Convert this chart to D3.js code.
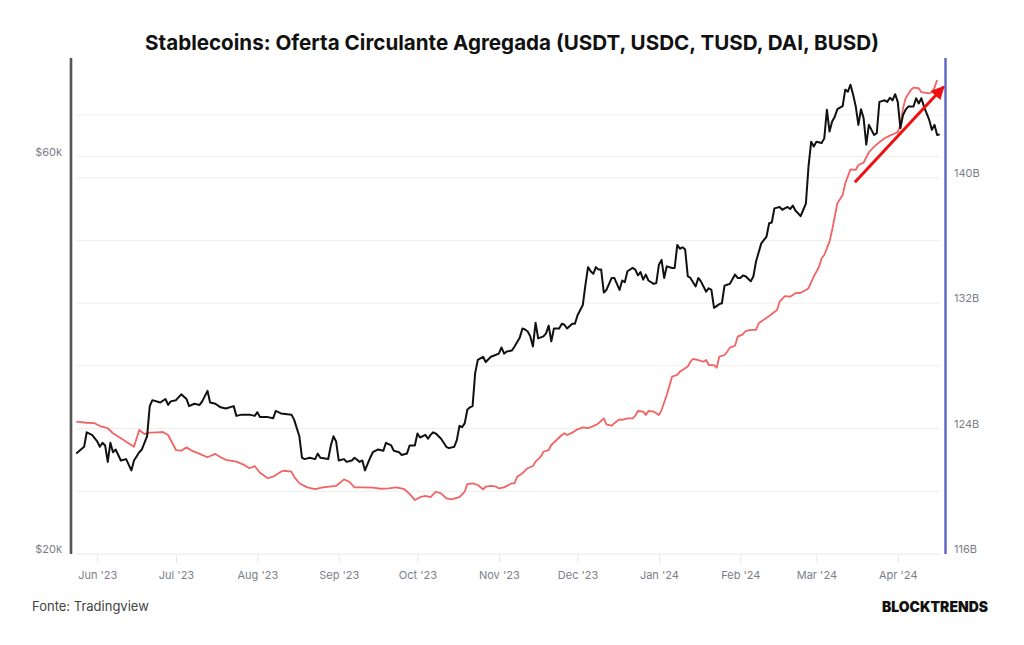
<!DOCTYPE html>
<html>
<head>
<meta charset="utf-8">
<script src="https://cdn.jsdelivr.net/npm/d3@7"></script>
<style>
body { margin: 0; background: #fff; }
svg text { font-family: Inter, "Noto Sans", sans-serif; }
</style>
</head>
<body>
<div id="chart"></div>
<script>
// BTC price (USD), left axis, log scale
const btcSeries = [
  ["2023-05-24",26400],["2023-05-27",26900],["2023-05-28",28000],["2023-05-30",27800],["2023-06-01",27300],
  ["2023-06-02",26900],["2023-06-03",27200],["2023-06-04",27000],["2023-06-05",25800],["2023-06-06",27200],
  ["2023-06-07",26500],["2023-06-08",26700],["2023-06-09",26300],["2023-06-10",25900],["2023-06-12",26000],
  ["2023-06-14",25200],["2023-06-15",25900],["2023-06-17",26500],["2023-06-18",26700],["2023-06-20",27700],
  ["2023-06-21",30100],["2023-06-22",30600],["2023-06-25",30400],["2023-06-27",30700],["2023-06-28",30200],
  ["2023-06-29",30500],["2023-07-01",30600],["2023-07-03",31100],["2023-07-05",30700],["2023-07-06",30100],
  ["2023-07-08",30300],["2023-07-10",30200],["2023-07-11",30500],["2023-07-13",31400],["2023-07-14",30400],
  ["2023-07-16",30300],["2023-07-18",30000],["2023-07-20",29900],["2023-07-23",30100],["2023-07-24",29300],
  ["2023-07-26",29400],["2023-07-29",29400],["2023-07-31",29300],["2023-08-01",29600],["2023-08-02",29200],
  ["2023-08-05",29200],["2023-08-07",29100],["2023-08-08",29700],["2023-08-10",29500],["2023-08-14",29400],
  ["2023-08-15",29000],["2023-08-17",27700],["2023-08-18",26100],["2023-08-19",26000],["2023-08-21",26100],
  ["2023-08-23",26000],["2023-08-24",26400],["2023-08-25",26100],["2023-08-28",26000],["2023-08-29",27000],
  ["2023-08-30",27700],["2023-08-31",27300],["2023-09-01",25900],["2023-09-03",26000],["2023-09-04",25800],
  ["2023-09-06",25900],["2023-09-07",26100],["2023-09-09",25800],["2023-09-10",25900],["2023-09-11",25200],
  ["2023-09-13",26100],["2023-09-14",26500],["2023-09-16",26700],["2023-09-18",26600],["2023-09-19",27200],
  ["2023-09-21",27000],["2023-09-22",26600],["2023-09-24",26500],["2023-09-25",26300],["2023-09-27",26400],
  ["2023-09-28",27000],["2023-09-30",27000],["2023-10-01",27900],["2023-10-02",27600],["2023-10-04",27800],
  ["2023-10-05",27500],["2023-10-06",27800],["2023-10-07",28000],["2023-10-08",27900],["2023-10-10",27500],
  ["2023-10-12",26900],["2023-10-13",26800],["2023-10-15",26900],["2023-10-16",27400],["2023-10-17",28500],
  ["2023-10-18",28400],["2023-10-19",28700],["2023-10-20",29800],["2023-10-21",30000],["2023-10-22",30100],
  ["2023-10-23",33000],["2023-10-24",34200],["2023-10-26",34500],["2023-10-27",34000],["2023-10-29",34500],
  ["2023-10-30",34600],["2023-11-01",34800],["2023-11-02",35400],["2023-11-03",34800],["2023-11-04",35000],
  ["2023-11-06",35100],["2023-11-07",35500],["2023-11-09",36400],["2023-11-10",37300],["2023-11-11",37200],
  ["2023-11-12",37000],["2023-11-13",36500],["2023-11-14",35500],["2023-11-15",37900],["2023-11-16",36300],
  ["2023-11-18",36500],["2023-11-19",36800],["2023-11-20",37600],["2023-11-21",36000],["2023-11-22",37300],
  ["2023-11-24",37300],["2023-11-25",37800],["2023-11-26",37700],["2023-11-27",37300],["2023-11-29",37800],
  ["2023-11-30",37800],["2023-12-01",38700],["2023-12-03",39800],["2023-12-04",42100],["2023-12-05",44200],
  ["2023-12-06",43700],["2023-12-07",43400],["2023-12-08",44200],["2023-12-09",43900],["2023-12-10",43900],
  ["2023-12-11",41200],["2023-12-12",41500],["2023-12-14",42900],["2023-12-15",42900],["2023-12-16",42200],
  ["2023-12-17",41500],["2023-12-18",42600],["2023-12-19",42400],["2023-12-20",43700],["2023-12-22",44100],
  ["2023-12-23",43900],["2023-12-24",43200],["2023-12-25",43600],["2023-12-26",42700],["2023-12-27",43300],
  ["2023-12-28",42600],["2023-12-30",42200],["2023-12-31",42300],["2024-01-01",44500],["2024-01-02",45100],
  ["2024-01-03",42900],["2024-01-04",44300],["2024-01-06",44100],["2024-01-07",44100],["2024-01-08",47000],
  ["2024-01-09",46500],["2024-01-10",46700],["2024-01-11",46400],["2024-01-12",43100],["2024-01-13",42900],
  ["2024-01-15",41900],["2024-01-16",42900],["2024-01-17",42500],["2024-01-19",41300],["2024-01-20",41700],
  ["2024-01-21",41500],["2024-01-22",39500],["2024-01-24",39900],["2024-01-25",40000],["2024-01-26",42000],
  ["2024-01-27",42100],["2024-01-28",42200],["2024-01-30",43300],["2024-01-31",42900],["2024-02-01",42900],
  ["2024-02-02",43200],["2024-02-03",43100],["2024-02-05",42500],["2024-02-06",43100],["2024-02-07",44900],
  ["2024-02-09",47200],["2024-02-11",48100],["2024-02-12",49900],["2024-02-13",50000],["2024-02-14",52000],
  ["2024-02-16",52200],["2024-02-17",51800],["2024-02-19",52200],["2024-02-20",51900],["2024-02-21",52400],
  ["2024-02-22",51700],["2024-02-24",50900],["2024-02-25",51800],["2024-02-26",52700],["2024-02-27",58400],
  ["2024-02-28",62500],["2024-02-29",61700],["2024-03-01",62500],["2024-03-03",62300],["2024-03-04",63100],
  ["2024-03-05",68300],["2024-03-06",64300],["2024-03-07",66100],["2024-03-08",67000],["2024-03-09",68400],
  ["2024-03-11",69000],["2024-03-12",72200],["2024-03-13",71800],["2024-03-14",73200],["2024-03-15",71200],
  ["2024-03-16",68900],["2024-03-17",65500],["2024-03-18",68400],["2024-03-19",66700],["2024-03-20",62000],
  ["2024-03-21",65500],["2024-03-23",63700],["2024-03-24",64000],["2024-03-25",69800],["2024-03-27",70100],
  ["2024-03-28",69800],["2024-03-29",70600],["2024-03-30",70100],["2024-03-31",71300],["2024-04-01",69800],
  ["2024-04-02",64900],["2024-04-03",67300],["2024-04-04",68300],["2024-04-05",68900],["2024-04-07",68900],
  ["2024-04-08",70500],["2024-04-09",69500],["2024-04-10",70500],["2024-04-11",68900],["2024-04-12",67600],
  ["2024-04-13",66400],["2024-04-14",64600],["2024-04-15",65500],["2024-04-16",63700],["2024-04-17",63800]
];

// Aggregated stablecoin supply (billions USD), right axis
const supplySeries = [
  ["2023-05-24",124.44],["2023-05-28",124.37],["2023-05-31",124.34],["2023-06-02",124.16],["2023-06-05",124.02],
  ["2023-06-07",123.70],["2023-06-10",123.38],["2023-06-12",123.16],["2023-06-15",122.84],["2023-06-16",123.38],
  ["2023-06-17",123.91],["2023-06-19",123.65],["2023-06-21",123.74],["2023-06-24",123.76],["2023-06-26",123.78],
  ["2023-06-28",123.59],["2023-06-29",123.27],["2023-07-01",122.63],["2023-07-03",122.59],["2023-07-05",122.80],
  ["2023-07-07",122.59],["2023-07-10",122.38],["2023-07-13",122.17],["2023-07-16",122.38],["2023-07-18",122.17],
  ["2023-07-20",122.00],["2023-07-24",121.89],["2023-07-27",121.68],["2023-07-29",121.47],["2023-07-31",121.61],
  ["2023-08-02",121.18],["2023-08-05",120.83],["2023-08-07",120.93],["2023-08-10",121.25],["2023-08-11",121.31],
  ["2023-08-14",121.25],["2023-08-15",120.93],["2023-08-17",120.51],["2023-08-20",120.25],["2023-08-23",120.13],
  ["2023-08-26",120.25],["2023-08-31",120.34],["2023-09-03",120.76],["2023-09-05",120.61],["2023-09-07",120.25],
  ["2023-09-10",120.25],["2023-09-14",120.23],["2023-09-17",120.16],["2023-09-20",120.19],["2023-09-23",120.25],
  ["2023-09-26",120.13],["2023-09-28",119.83],["2023-09-30",119.44],["2023-10-02",119.62],["2023-10-04",119.70],
  ["2023-10-06",119.62],["2023-10-08",119.97],["2023-10-10",119.87],["2023-10-12",119.55],["2023-10-14",119.49],
  ["2023-10-17",119.62],["2023-10-19",119.97],["2023-10-20",120.46],["2023-10-22",120.51],["2023-10-24",120.40],
  ["2023-10-26",120.13],["2023-10-27",120.29],["2023-10-29",120.34],["2023-10-31",120.29],["2023-11-01",120.19],
  ["2023-11-03",120.25],["2023-11-06",120.51],["2023-11-07",120.51],["2023-11-08",120.93],["2023-11-10",121.15],
  ["2023-11-12",121.47],["2023-11-14",121.61],["2023-11-15",121.89],["2023-11-17",122.21],["2023-11-18",122.52],
  ["2023-11-20",122.63],["2023-11-21",122.95],["2023-11-23",123.27],["2023-11-25",123.59],["2023-11-26",123.70],
  ["2023-11-27",123.59],["2023-11-29",123.74],["2023-12-01",123.95],["2023-12-03",124.08],["2023-12-05",124.02],
  ["2023-12-08",124.23],["2023-12-09",124.34],["2023-12-11",124.65],["2023-12-12",124.27],["2023-12-14",124.18],
  ["2023-12-15",124.34],["2023-12-17",124.59],["2023-12-18",124.55],["2023-12-20",124.65],["2023-12-22",124.65],
  ["2023-12-23",124.82],["2023-12-24",125.12],["2023-12-26",125.08],["2023-12-27",124.86],["2023-12-28",125.12],
  ["2023-12-30",125.08],["2024-01-01",124.86],["2024-01-02",125.18],["2024-01-04",126.14],["2024-01-06",127.31],
  ["2024-01-08",127.42],["2024-01-09",127.63],["2024-01-10",127.73],["2024-01-12",127.95],["2024-01-13",128.26],
  ["2024-01-14",128.44],["2024-01-16",128.37],["2024-01-18",128.26],["2024-01-19",128.37],["2024-01-20",128.05],
  ["2024-01-22",128.05],["2024-01-23",127.88],["2024-01-24",128.58],["2024-01-26",128.69],["2024-01-27",128.90],
  ["2024-01-28",129.16],["2024-01-30",129.28],["2024-01-31",129.86],["2024-02-02",130.01],["2024-02-03",130.22],
  ["2024-02-05",130.29],["2024-02-07",130.29],["2024-02-08",130.71],["2024-02-12",131.18],["2024-02-15",131.56],
  ["2024-02-16",132.09],["2024-02-18",132.45],["2024-02-20",132.41],["2024-02-22",132.63],["2024-02-24",132.66],
  ["2024-02-26",132.84],["2024-02-27",132.95],["2024-02-29",133.69],["2024-03-02",134.32],["2024-03-03",134.86],
  ["2024-03-04",135.07],["2024-03-06",135.92],["2024-03-07",136.66],["2024-03-09",138.37],["2024-03-11",138.90],
  ["2024-03-12",139.64],["2024-03-14",140.53],["2024-03-16",140.49],["2024-03-17",140.81],["2024-03-19",140.96],
  ["2024-03-20",141.30],["2024-03-21",141.62],["2024-03-23",141.98],["2024-03-25",142.26],["2024-03-27",142.51],
  ["2024-03-29",142.68],["2024-03-31",142.83],["2024-04-01",142.89],["2024-04-02",143.36],["2024-04-03",144.42],
  ["2024-04-04",145.06],["2024-04-06",145.59],["2024-04-07",145.74],["2024-04-09",145.70],["2024-04-10",145.45],
  ["2024-04-13",145.38],["2024-04-14",145.45],["2024-04-15",145.74],["2024-04-16",146.23]
];

const leftTicks = [20000, 60000];
const rightTicks = [116, 124, 132, 140];
const rightGrid = [116, 120, 124, 128, 132, 136, 140, 144];
const xDomain = ["2023-05-22", "2024-04-19"];
// annotation arrow (date, supply in B)
const arrowPts = [["2024-03-15T16:00", 139.7], ["2024-04-18T12:00", 145.8]];
const titleText = "Stablecoins: Oferta Circulante Agregada (USDT, USDC, TUSD, DAI, BUSD)";
const sourceText = "Fonte: Tradingview";
const brandText = "BLOCKTRENDS";

const W = 1024, H = 645;
const plot = { left: 71, right: 945, top: 58, bottom: 554 };

const parseDay = d3.timeParse("%Y-%m-%d");
const parseTime = d3.timeParse("%Y-%m-%dT%H:%M");
const btc = btcSeries.map(d => ({ date: parseDay(d[0]), v: d[1] }));
const supply = supplySeries.map(d => ({ date: parseDay(d[0]), v: d[1] }));

const svg = d3.select("#chart").append("svg").attr("width", W).attr("height", H);

const x = d3.scaleTime().domain(xDomain.map(parseDay)).range([plot.left, plot.right]);
const yL = d3.scaleLog().domain([20000, 78800]).range([plot.bottom, plot.top]);
const yR = d3.scaleLinear().domain([116, 147.63]).range([plot.bottom, plot.top]);

// grid
svg.append("g").selectAll("line").data(rightGrid).enter().append("line")
    .attr("x1", plot.left + 5).attr("x2", plot.right - 5)
    .attr("y1", d => yR(d)).attr("y2", d => yR(d))
    .attr("stroke", "#eeeeee").attr("stroke-width", 1);
svg.append("g").selectAll("line").data(leftTicks).enter().append("line")
    .attr("x1", plot.left + 5).attr("x2", plot.right - 5)
    .attr("y1", d => yL(d)).attr("y2", d => yL(d))
    .attr("stroke", "#eeeeee").attr("stroke-width", 1);

// x axis
const xAxis = svg.append("g").attr("transform", "translate(0," + (plot.bottom + 1) + ")")
    .call(d3.axisBottom(x).ticks(d3.timeMonth.every(1)).tickFormat(d3.timeFormat("%b '%y")).tickSize(8).tickPadding(8));
xAxis.select(".domain").remove();
xAxis.selectAll(".tick line").attr("stroke", "#e6e6e6");
xAxis.selectAll("text").attr("fill", "#7b7e88").attr("font-size", 11);

// left axis
const lAxis = svg.append("g").attr("transform", "translate(" + plot.left + ",0)")
    .call(d3.axisLeft(yL).tickValues(leftTicks).tickFormat(d => "$" + (d / 1000) + "k").tickSize(0).tickPadding(9));
lAxis.select(".domain").remove();
lAxis.selectAll("text").attr("fill", "#7b7e88").attr("font-size", 11).attr("dy", "-0.14em");

// right axis
const rAxis = svg.append("g").attr("transform", "translate(" + plot.right + ",0)")
    .call(d3.axisRight(yR).tickValues(rightTicks).tickFormat(d => d + "B").tickSize(0).tickPadding(9));
rAxis.select(".domain").remove();
rAxis.selectAll("text").attr("fill", "#7b7e88").attr("font-size", 11).attr("dy", "-0.14em");

// axis bars
svg.append("line").attr("x1", plot.left).attr("x2", plot.left)
    .attr("y1", plot.top).attr("y2", plot.bottom)
    .attr("stroke", "#555").attr("stroke-width", 2.6);
svg.append("line").attr("x1", plot.right + 0.5).attr("x2", plot.right + 0.5)
    .attr("y1", plot.top).attr("y2", plot.bottom)
    .attr("stroke", "#5a64c6").attr("stroke-width", 2.4);

// series
const supplyLine = d3.line().x(d => x(d.date)).y(d => yR(d.v));
const btcLine = d3.line().x(d => x(d.date)).y(d => yL(d.v));

svg.append("path").datum(supply).attr("d", supplyLine)
    .attr("fill", "none").attr("stroke", "#f26464").attr("stroke-width", 1.8).attr("stroke-linejoin", "round");
svg.append("path").datum(btc).attr("d", btcLine)
    .attr("fill", "none").attr("stroke", "#111").attr("stroke-width", 2).attr("stroke-linejoin", "round");

// arrow annotation
svg.append("defs").append("marker").attr("id", "head")
    .attr("viewBox", "0 0 10 10").attr("refX", 9).attr("refY", 5)
    .attr("markerWidth", 4.5).attr("markerHeight", 4.5).attr("orient", "auto")
    .append("path").attr("d", "M0,0L10,5L0,10Z").attr("fill", "#ee1111");
svg.append("line")
    .attr("x1", x(parseTime(arrowPts[0][0]))).attr("y1", yR(arrowPts[0][1]))
    .attr("x2", x(parseTime(arrowPts[1][0]))).attr("y2", yR(arrowPts[1][1]))
    .attr("stroke", "#ee1111").attr("stroke-width", 3).attr("marker-end", "url(#head)");

// texts
svg.append("text").attr("x", W / 2).attr("y", 50).attr("text-anchor", "middle")
    .attr("font-size", 20.6).attr("font-weight", 700).attr("fill", "#111").text(titleText);
svg.append("text").attr("x", 32).attr("y", 611)
    .attr("font-size", 13).attr("fill", "#444").text(sourceText);
svg.append("text").attr("x", 988).attr("y", 612).attr("text-anchor", "end")
    .attr("font-size", 14.5).attr("font-weight", 900).attr("fill", "#111")
    .attr("textLength", 106).attr("lengthAdjust", "spacingAndGlyphs").text(brandText);
</script>
</body>
</html>
